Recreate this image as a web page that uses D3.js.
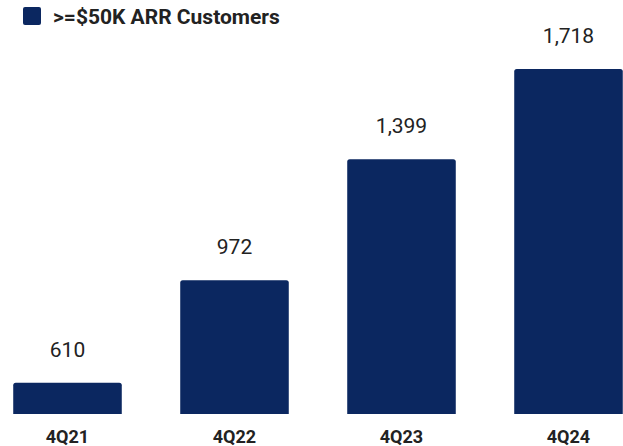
<!DOCTYPE html>
<html>
<head>
<meta charset="utf-8">
<script src="https://cdn.jsdelivr.net/npm/d3@7"></script>
<style>
  html, body { margin: 0; padding: 0; background: #fff; }
  svg { display: block; font-family: Roboto, "Noto Sans", sans-serif; }
</style>
</head>
<body>
<svg id="chart" width="623" height="446"></svg>
<script>
// Customers with ARR of $50K or more, by fiscal quarter
const quarters = ["4Q21", "4Q22", "4Q23", "4Q24"];
const customers = [610, 972, 1399, 1718];
const seriesName = ">=$50K ARR Customers";

const barColor = "#0b2760";
const textColor = "#222222";

const svg = d3.select("#chart");
const baseline = 414;

const x = d3.scaleBand()
  .domain(quarters)
  .range([-16, 652])
  .paddingInner(0.35)
  .paddingOuter(0.175);

// value axis does not start at zero
const y = d3.scaleLinear()
  .domain([500, 1718])
  .range([baseline, 69]);

// bars with slightly rounded top corners
const r = 2.5;
svg.append("g")
  .selectAll("path")
  .data(quarters)
  .join("path")
  .attr("fill", barColor)
  .attr("d", (q, i) => {
    const x0 = x(q), w = x.bandwidth(), t = y(customers[i]);
    return `M${x0},${baseline}V${t + r}Q${x0},${t} ${x0 + r},${t}` +
           `H${x0 + w - r}Q${x0 + w},${t} ${x0 + w},${t + r}V${baseline}Z`;
  });

// value labels above bars
const fmt = d3.format(",");
svg.append("g")
  .selectAll("text")
  .data(quarters)
  .join("text")
  .attr("x", q => x(q) + x.bandwidth() / 2)
  .attr("y", (q, i) => y(customers[i]) - 26)
  .attr("text-anchor", "middle")
  .attr("font-size", 21)
  .attr("fill", textColor)
  .attr("stroke", "#fff")
  .attr("stroke-width", 3)
  .attr("paint-order", "stroke")
  .text((q, i) => fmt(customers[i]));

// category axis
const xAxis = svg.append("g")
  .attr("transform", `translate(0,${baseline})`)
  .call(d3.axisBottom(x).tickSize(0).tickPadding(16));
xAxis.select(".domain").remove();
xAxis.selectAll("text")
  .attr("font-family", "Roboto, sans-serif")
  .attr("font-size", 18)
  .attr("font-weight", "bold")
  .attr("fill", textColor)
  .attr("dy", "0.71em");

// legend
const legend = svg.append("g");
legend.append("rect")
  .attr("x", 23).attr("y", 7)
  .attr("width", 18).attr("height", 18)
  .attr("rx", 2)
  .attr("fill", barColor);
legend.append("text")
  .attr("x", 53).attr("y", 24)
  .attr("font-size", 21)
  .attr("font-weight", "bold")
  .attr("fill", textColor)
  .text(seriesName);
</script>
</body>
</html>
